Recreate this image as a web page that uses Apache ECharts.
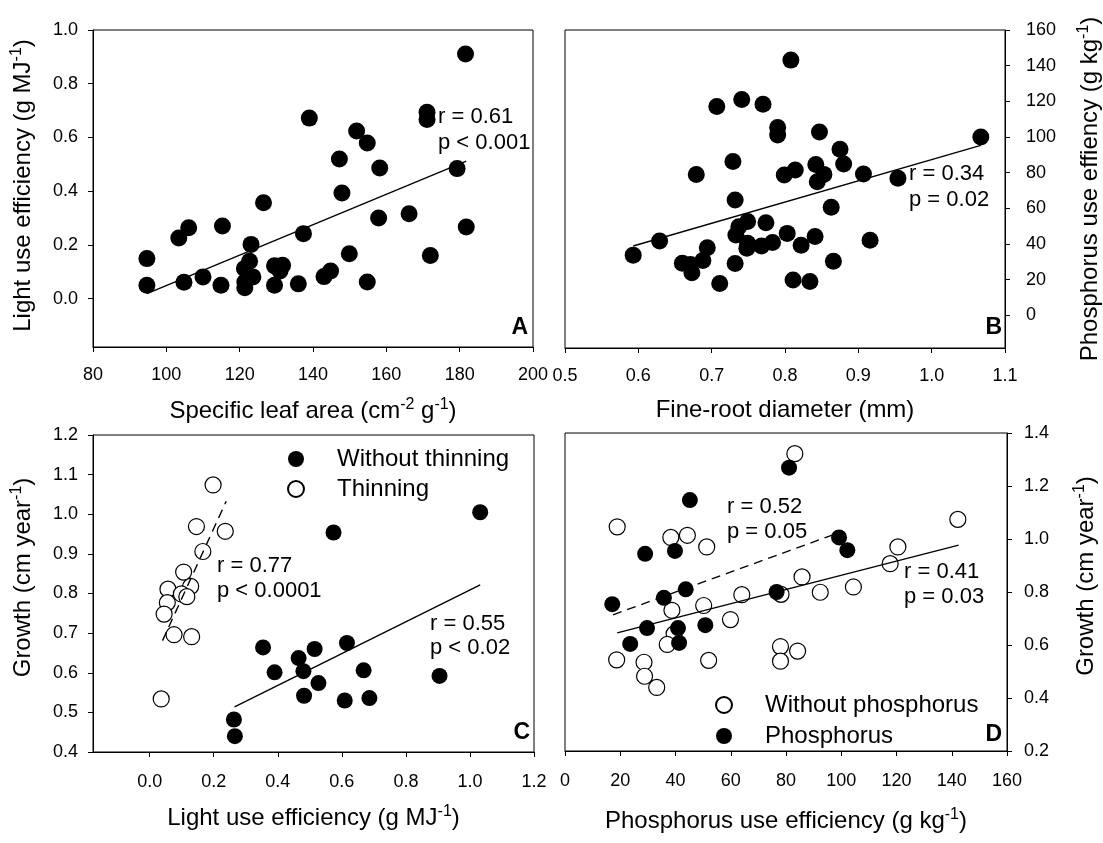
<!DOCTYPE html>
<html>
<head>
<meta charset="utf-8">
<script src="https://cdn.jsdelivr.net/npm/echarts@6/dist/echarts.min.js"></script>
<style>
  html, body { margin: 0; padding: 0; background: #fff; }
  #chart { width: 1103px; height: 843px; }
</style>
</head>
<body>
<div id="chart"></div>
<script>
  // panel A: specific leaf area vs light use efficiency
  const slaA = [181.6, 171.1, 171.1, 139.0, 151.9, 154.8, 147.2, 158.2, 179.3, 147.9, 126.5, 157.9, 166.2,
    181.8, 106.1, 103.4, 115.3, 137.4, 123.1, 149.9, 172.0, 94.7, 94.7, 104.8, 110.0, 114.9, 122.7, 121.3,
    123.6, 121.4, 121.4, 129.5, 131.7, 131.0, 129.5, 136.0, 143.0, 144.8, 154.8]
  const lueA = [0.911, 0.694, 0.667, 0.672, 0.624, 0.579, 0.520, 0.486, 0.484, 0.393, 0.357, 0.300, 0.316,
    0.267, 0.264, 0.226, 0.270, 0.242, 0.202, 0.167, 0.161, 0.149, 0.050, 0.061, 0.081, 0.050, 0.139, 0.112,
    0.081, 0.062, 0.041, 0.122, 0.124, 0.103, 0.050, 0.055, 0.082, 0.103, 0.062]
  const fitAx = [94.7, 181.8]
  const fitAy = [0.019, 0.512]

  // panel B: fine-root diameter vs phosphorus use efficiency
  const frdB = [0.808, 0.707, 0.741, 0.770, 0.790, 0.790, 0.847, 1.067, 0.875, 0.880, 0.729, 0.679, 0.799,
    0.814, 0.842, 0.853, 0.844, 0.907, 0.954, 0.732, 0.863, 0.749, 0.737, 0.774, 0.733, 0.749, 0.748, 0.768,
    0.783, 0.803, 0.822, 0.841, 0.916, 0.629, 0.593, 0.694, 0.688, 0.660, 0.671, 0.673, 0.732, 0.711, 0.866,
    0.811, 0.834]
  const pueB = [143.1, 117.1, 121.0, 118.4, 105.3, 101.1, 102.8, 100.0, 93.1, 84.8, 86.2, 78.9, 78.7,
    81.5, 84.5, 79.0, 74.9, 79.2, 76.8, 64.6, 60.5, 52.6, 49.6, 51.9, 45.0, 40.3, 37.5, 38.8,
    40.8, 45.9, 39.3, 44.2, 42.1, 41.6, 33.7, 37.8, 30.7, 29.2, 28.5, 23.8, 29.0, 17.8, 30.3,
    19.7, 18.9]
  const fitBx = [0.593, 1.067]
  const fitBy = [38.8, 95.3]

  // panel C: light use efficiency vs growth
  const lueNoThin = [1.032, 0.574, 0.354, 0.515, 0.616, 0.465, 0.390, 0.480, 0.668, 0.527, 0.482, 0.609,
    0.686, 0.905, 0.263, 0.266]
  const growthNoThin = [1.005, 0.954, 0.664, 0.660, 0.675, 0.637, 0.601, 0.604, 0.606, 0.574, 0.542, 0.530,
    0.536, 0.592, 0.482, 0.440]
  const lueThin = [0.198, 0.146, 0.236, 0.166, 0.106, 0.057, 0.128, 0.099, 0.116, 0.055, 0.045, 0.076, 0.131, 0.036]
  const growthThin = [1.074, 0.969, 0.957, 0.906, 0.854, 0.811, 0.818, 0.799, 0.792, 0.777, 0.748, 0.696, 0.691, 0.534]
  const fitThinX = [0.040, 0.239]
  const fitThinY = [0.681, 1.033]
  const fitNoThinX = [0.265, 1.032]
  const fitNoThinY = [0.514, 0.822]

  // panel D: phosphorus use efficiency vs growth
  const pueNoP = [83.2, 18.9, 38.3, 44.3, 51.3, 142.2, 120.5, 117.7, 85.8, 104.4, 92.4, 64.0, 78.2, 50.2,
    38.7, 59.9, 39.5, 37.0, 18.7, 28.6, 28.8, 33.2, 52.0, 78.0, 84.2, 78.0]
  const growthNoP = [1.322, 1.046, 1.006, 1.014, 0.970, 1.074, 0.970, 0.907, 0.857, 0.819, 0.799, 0.790, 0.791, 0.749,
    0.731, 0.696, 0.642, 0.602, 0.544, 0.535, 0.482, 0.440, 0.542, 0.594, 0.577, 0.539]
  const pueP = [81.1, 45.2, 29.0, 39.8, 99.2, 102.2, 43.7, 35.8, 17.1, 76.6, 29.7, 40.9, 50.8, 23.6, 41.3]
  const growthP = [1.269, 1.147, 0.944, 0.955, 1.006, 0.958, 0.810, 0.778, 0.754, 0.800, 0.664, 0.664, 0.675, 0.604, 0.608]
  const fitPX = [17.4, 98.4]
  const fitPY = [0.714, 1.021]
  const fitNoPX = [18.9, 142.5]
  const fitNoPY = [0.646, 0.977]

  const FONT = "'Liberation Sans', Arial, Helvetica, sans-serif"

  const zip = (xs, ys) => xs.map((x, i) => [x, ys[i]])
  const range = (a, b, step) => {
    let out = []
    for (let v = a; v <= b + 1e-9; v += step) out.push(Math.round(v * 1000) / 1000)
    return out
  }

  const rich = {
    n: { fontSize: 24, fontFamily: FONT, color: '#000' },
    s: { fontSize: 16, fontFamily: FONT, color: '#000', padding: [0, 0, 12, 0] }
  }

  function axis(o) {
    let ax = {
      type: 'value',
      gridIndex: o.grid,
      position: o.position,
      min: o.min,
      max: o.max,
      interval: o.interval,
      name: o.name,
      nameLocation: 'middle',
      nameGap: o.nameGap,
      nameRotate: o.nameRotate,
      nameTextStyle: { fontSize: 24, fontFamily: FONT, color: '#000', rich: rich, padding: o.namePadding || 0 },
      axisLine: { show: true, onZero: false, lineStyle: { color: '#000', width: 1 } },
      axisTick: { show: true, inside: false, length: 5, lineStyle: { color: '#000' } },
      splitLine: { show: false },
      axisLabel: {
        fontSize: 18, fontFamily: FONT, color: '#000', margin: o.margin,
        showMinLabel: true, showMaxLabel: true,
        formatter: v => o.decimals != null ? Number(v).toFixed(o.decimals) : String(v)
      }
    }
    if (o.ticks) {
      ax.axisLabel.customValues = o.ticks
      ax.axisTick.customValues = o.ticks
    }
    return ax
  }

  const dots = { color: '#000', opacity: 1 }
  const rings = { color: '#fff', borderColor: '#000', borderWidth: 1.2, opacity: 1 }

  function fit(xi, yi, xs, ys, dashed) {
    return {
      type: 'line', xAxisIndex: xi, yAxisIndex: yi, data: zip(xs, ys), symbol: 'none', z: 5,
      lineStyle: { color: '#000', width: 1.4, type: dashed ? [9, 6] : 'solid' }, silent: true
    }
  }

  function label(text, x, y, opts) {
    opts = opts || {}
    return {
      type: 'text', x: x, y: y, z: 10,
      style: {
        text: text, fill: '#000',
        font: (opts.bold ? 'bold ' : '') + (opts.size || 22) + 'px ' + FONT,
        textAlign: opts.align || 'left', textVerticalAlign: 'middle'
      }
    }
  }

  const chart = echarts.init(document.getElementById('chart'))
  chart.setOption({
    animation: false,
    backgroundColor: '#fff',
    grid: [
      { left: 93, top: 30, width: 440, height: 317, show: true, borderColor: '#000', borderWidth: 1 },
      { left: 565, top: 30, width: 442, height: 318, show: true, borderColor: '#000', borderWidth: 1 },
      { left: 93, top: 435, width: 441, height: 317, show: true, borderColor: '#000', borderWidth: 1 },
      { left: 565, top: 433, width: 442, height: 318, show: true, borderColor: '#000', borderWidth: 1 }
    ],
    xAxis: [
      axis({ grid: 0, position: 'bottom', min: 80, max: 200, interval: 20, margin: 19, nameGap: 50,
        name: '{n|Specific leaf area (cm}{s|-2}{n| g}{s|-1}{n|)}' }),
      axis({ grid: 1, position: 'bottom', min: 0.5, max: 1.1, interval: 0.1, decimals: 1, margin: 19, nameGap: 50,
        name: 'Fine-root diameter (mm)' }),
      axis({ grid: 2, position: 'bottom', min: -0.177, max: 1.2, ticks: range(0, 1.2, 0.2), decimals: 1, margin: 21,
        nameGap: 52, name: '{n|Light use efficiency (g MJ}{s|-1}{n|)}' }),
      axis({ grid: 3, position: 'bottom', min: 0, max: 160, interval: 20, margin: 21, nameGap: 56,
        name: '{n|Phosphorus use efficiency (g kg}{s|-1}{n|)}' })
    ],
    yAxis: [
      axis({ grid: 0, position: 'left', min: -0.18, max: 1.0, ticks: range(0, 1.0, 0.2), decimals: 1, margin: 15,
        nameGap: 56, nameRotate: 90, namePadding: [0, 0, 0, 6],
        name: '{n|Light use efficiency (g MJ}{s|-1}{n|)}' }),
      axis({ grid: 1, position: 'right', min: -18.4, max: 160, ticks: range(0, 160, 20), margin: 21,
        nameGap: 71, nameRotate: 90,
        name: '{n|Phosphorus use effiency (g kg}{s|-1}{n|)}' }),
      axis({ grid: 2, position: 'left', min: 0.4, max: 1.2, interval: 0.1, decimals: 1, margin: 15,
        nameGap: 56, nameRotate: 90, namePadding: [0, 0, 0, 32],
        name: '{n|Growth (cm year}{s|-1}{n|)}' }),
      axis({ grid: 3, position: 'right', min: 0.2, max: 1.4, interval: 0.2, decimals: 1, margin: 17,
        nameGap: 65, nameRotate: 90, namePadding: [0, 0, 0, 32],
        name: '{n|Growth (cm year}{s|-1}{n|)}' })
    ],
    legend: [
      {
        data: ['Without thinning', 'Thinning'], orient: 'vertical', left: 282, top: 441,
        itemWidth: 16, itemHeight: 16, itemGap: 4, selectedMode: false, icon: 'circle',
        textStyle: { fontSize: 24, fontFamily: FONT, color: '#000', lineHeight: 26, padding: [0, 0, 0, 28] }
      },
      {
        data: ['Without phosphorus', 'Phosphorus'], orient: 'vertical', left: 710, top: 687,
        itemWidth: 16, itemHeight: 16, itemGap: 5, selectedMode: false, icon: 'circle',
        textStyle: { fontSize: 24, fontFamily: FONT, color: '#000', lineHeight: 26, padding: [0, 0, 0, 28] }
      }
    ],
    series: [
      { type: 'scatter', xAxisIndex: 0, yAxisIndex: 0, data: zip(slaA, lueA), symbolSize: 17, itemStyle: dots },
      fit(0, 0, fitAx, fitAy),
      { type: 'scatter', xAxisIndex: 1, yAxisIndex: 1, data: zip(frdB, pueB), symbolSize: 17, itemStyle: dots },
      fit(1, 1, fitBx, fitBy),
      { name: 'Without thinning', type: 'scatter', xAxisIndex: 2, yAxisIndex: 2, data: zip(lueNoThin, growthNoThin),
        symbolSize: 16, itemStyle: dots },
      { name: 'Thinning', type: 'scatter', xAxisIndex: 2, yAxisIndex: 2, data: zip(lueThin, growthThin),
        symbolSize: 16, itemStyle: rings },
      fit(2, 2, fitThinX, fitThinY, true),
      fit(2, 2, fitNoThinX, fitNoThinY),
      { name: 'Without phosphorus', type: 'scatter', xAxisIndex: 3, yAxisIndex: 3, data: zip(pueNoP, growthNoP),
        symbolSize: 16, itemStyle: rings },
      { name: 'Phosphorus', type: 'scatter', xAxisIndex: 3, yAxisIndex: 3, data: zip(pueP, growthP),
        symbolSize: 16, itemStyle: dots },
      fit(3, 3, fitPX, fitPY, true),
      fit(3, 3, fitNoPX, fitNoPY)
    ],
    graphic: [
      label('r = 0.61', 438, 117), label('p < 0.001', 438, 143),
      label('r = 0.34', 909, 174), label('p = 0.02', 909, 200),
      label('r = 0.77', 217, 566), label('p < 0.0001', 217, 591),
      label('r = 0.55', 430, 624), label('p < 0.02', 430, 648),
      label('r = 0.52', 727, 507), label('p = 0.05', 727, 532),
      label('r = 0.41', 904, 572), label('p = 0.03', 904, 597),
      label('A', 528, 328, { bold: true, size: 23, align: 'right' }),
      label('B', 1002, 328, { bold: true, size: 23, align: 'right' }),
      label('C', 530, 733, { bold: true, size: 23, align: 'right' }),
      label('D', 1002, 735, { bold: true, size: 23, align: 'right' })
    ]
  })
</script>
</body>
</html>
